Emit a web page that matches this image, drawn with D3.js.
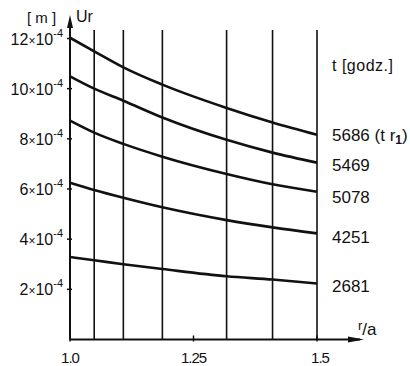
<!DOCTYPE html>
<html><head><meta charset="utf-8">
<script src="https://cdn.jsdelivr.net/npm/d3@7"></script>
<style>body{margin:0;background:#fff}svg{display:block}text{font-family:"Liberation Sans",Arial,sans-serif;fill:#111}</style>
</head><body>
<svg id="c" width="410" height="366"></svg>
<script>
// r/a positions of the measured sections (vertical lines)
const rPositions = [1.0, 1.049, 1.108, 1.187, 1.317, 1.41, 1.5];
const gridLines = [1.049, 1.108, 1.187, 1.317, 1.41, 1.5];
// Ur values in units of 1e-4 m, one series per time t [godz.]
const seriesNames = ["5686", "5469", "5078", "4251", "2681"];
const s5686 = [12.03, 11.49, 10.85, 10.16, 9.23, 8.65, 8.16];
const s5469 = [10.49, 10.0, 9.52, 8.85, 7.96, 7.45, 7.05];
const s5078 = [8.73, 8.25, 7.8, 7.29, 6.6, 6.19, 5.89];
const s4251 = [6.25, 5.96, 5.65, 5.27, 4.76, 4.47, 4.23];
const s2681 = [3.29, 3.16, 3.0, 2.81, 2.52, 2.39, 2.23];
const yTicks = [2, 4, 6, 8, 10, 12];
const xTicks = [1.0, 1.25, 1.5];
const xTickLabels = ["1.0", "1.25", "1.5"];

const series = [s5686, s5469, s5078, s4251, s2681];
const svg = d3.select("#c");
const x = d3.scaleLinear().domain([1.0, 1.5]).range([70, 317]);
const y = d3.scaleLinear().domain([0, 12]).range([339.5, 38.5]);

// grid lines
svg.append("g").selectAll("line").data(gridLines).join("line")
  .attr("x1", d => x(d)).attr("x2", d => x(d))
  .attr("y1", 30).attr("y2", y(0))
  .attr("stroke", "#111").attr("stroke-width", 1.6);

// axes
const g = svg.append("g");
g.append("line").attr("x1", x(1.0)).attr("x2", 360).attr("y1", y(0)).attr("y2", y(0))
  .attr("stroke", "#111").attr("stroke-width", 2);
g.append("path").attr("d", `M364,${y(0)} L348,${y(0)-3} L348,${y(0)+3} Z`).attr("fill", "#111");
g.append("line").attr("x1", x(1.0)).attr("x2", x(1.0)).attr("y1", y(0)).attr("y2", 22)
  .attr("stroke", "#111").attr("stroke-width", 2);
g.append("path").attr("d", `M${x(1.0)},15 L${x(1.0)-3},28 L${x(1.0)+3},28 Z`).attr("fill", "#111");

// y ticks
g.selectAll(".yt").data(yTicks).join("line").attr("class", "yt")
  .attr("x1", x(1.0) - 3).attr("x2", x(1.0) + 2)
  .attr("y1", d => y(d)).attr("y2", d => y(d)).attr("stroke", "#111").attr("stroke-width", 1.5);
const yl = g.selectAll(".yl").data(yTicks).join("text").attr("class", "yl")
  .attr("x", 63).attr("y", d => y(d) + 6).attr("text-anchor", "end").attr("font-size", 16);
yl.append("tspan").text(d => d).append("tspan").attr("font-size", 12).text("×");
yl.append("tspan").text("10");
yl.append("tspan").attr("font-size", 11).attr("dy", -8).text("-4");

// x ticks
g.selectAll(".xt").data(xTicks).join("line").attr("class", "xt")
  .attr("x1", d => x(d)).attr("x2", d => x(d))
  .attr("y1", y(0) - 4).attr("y2", y(0) + 2).attr("stroke", "#111").attr("stroke-width", 1.5);
g.selectAll(".xl").data(xTicks).join("text").attr("class", "xl")
  .attr("x", (d, i) => x(d) + (i === 2 ? 3 : 0)).attr("y", 363).attr("text-anchor", "middle")
  .attr("font-size", 15).attr("letter-spacing", -1).text((d, i) => xTickLabels[i]);

// axis titles
svg.append("text").attr("x", 27).attr("y", 23).attr("font-size", 15).text("[ m ]");
svg.append("text").attr("x", 76).attr("y", 22).attr("font-size", 16).text("Ur");
const ra = svg.append("text").attr("x", 358).attr("y", 335).attr("font-size", 17);
ra.append("tspan").attr("font-size", 13).attr("dy", -5).text("r");
ra.append("tspan").attr("dy", 5).text("/a");
svg.append("text").attr("x", 332).attr("y", 71).attr("font-size", 16).attr("letter-spacing", 0.5).text("t [godz.]");

// curves
const line = d3.line().x((d, i) => x(rPositions[i])).y(d => y(d)).curve(d3.curveMonotoneX);
svg.append("g").selectAll("path").data(series).join("path")
  .attr("d", d => line(d)).attr("fill", "none").attr("stroke", "#111").attr("stroke-width", 2.6);

// series labels
const labY = [141, 171, 203, 243, 292];
const labs = svg.append("g").selectAll("text").data(seriesNames).join("text")
  .attr("x", 332).attr("y", (d, i) => labY[i]).attr("font-size", 17);
labs.append("tspan").text(d => d);
const first = labs.filter((d, i) => i === 0);
first.append("tspan").text(" (t r");
first.append("tspan").attr("font-size", 12).attr("font-weight", "bold").attr("dy", 3).text("1");
first.append("tspan").attr("dy", -3).text(")");
</script>
</body></html>
